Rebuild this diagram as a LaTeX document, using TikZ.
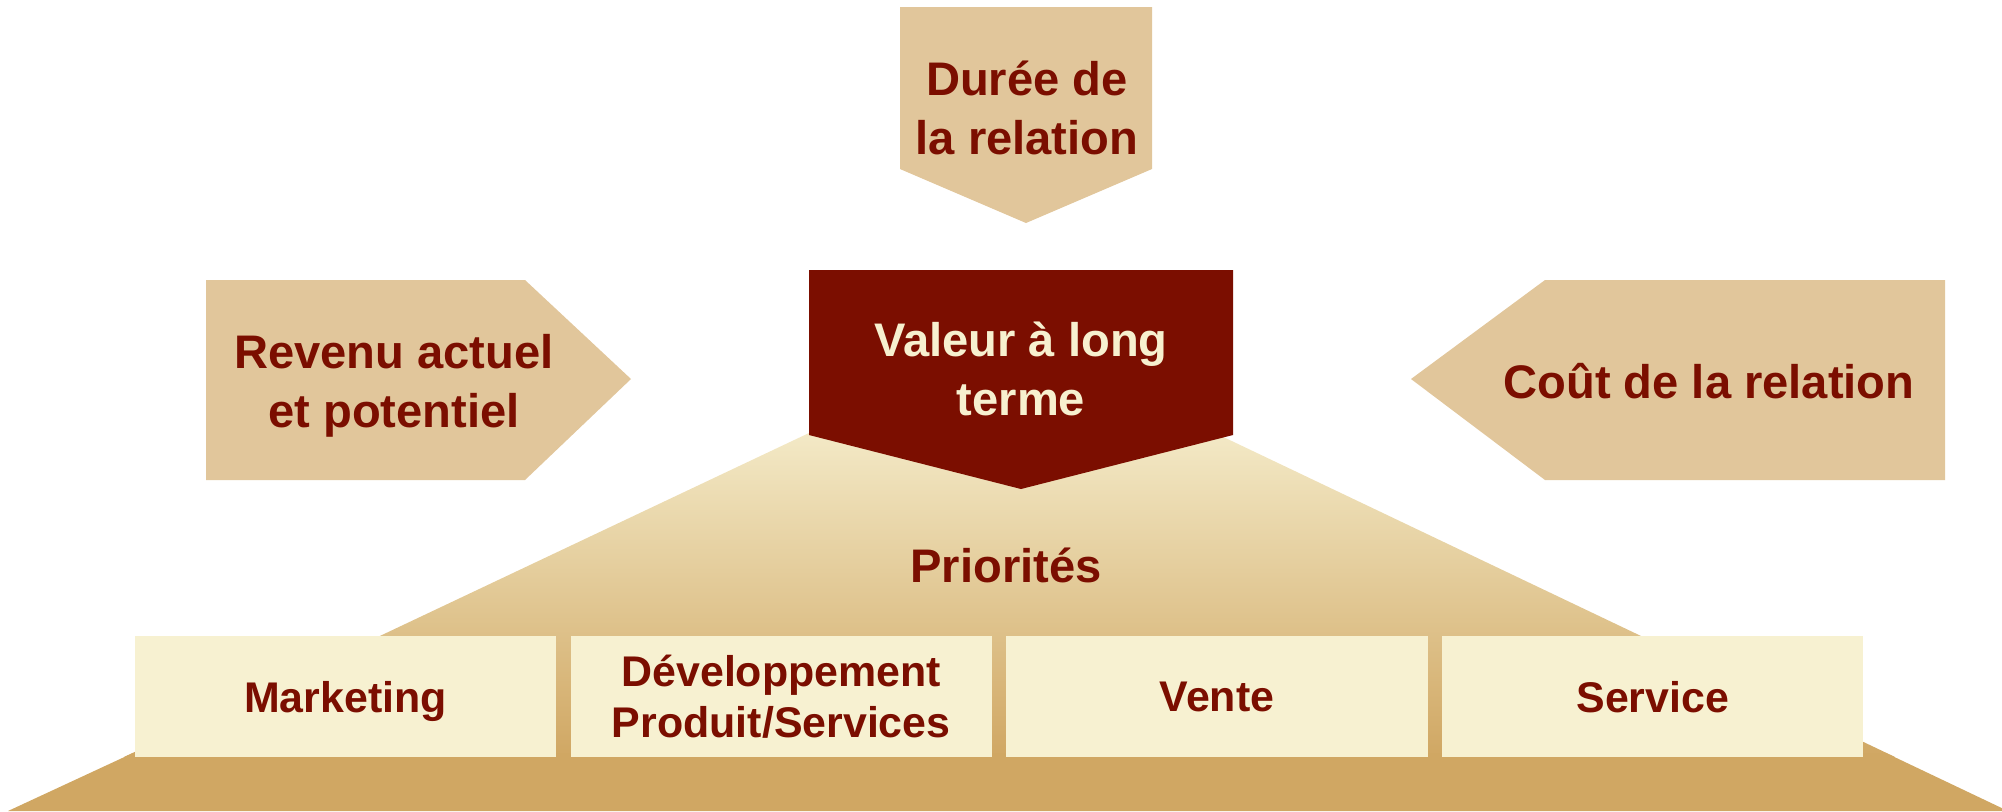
\documentclass[tikz,border=0pt]{standalone}
\usepackage{fontspec}
\setmainfont{Liberation Sans}
\usetikzlibrary{positioning}
\definecolor{tanbox}{HTML}{E1C69B}
\definecolor{wine}{HTML}{7B0E00}
\definecolor{creamtext}{HTML}{F7F0CF}
\definecolor{creambox}{HTML}{F7F1D1}
\definecolor{pyrtop}{HTML}{F3E9C6}
\definecolor{pyrbot}{HTML}{D0A763}
\begin{document}
\begin{tikzpicture}[x=0.01cm, y=-0.01cm,
    lbl/.style={font=\bfseries\fontsize{13.4pt}{16.5pt}\selectfont, text=wine, align=center, inner sep=0pt},
    func/.style={fill=creambox, minimum width=4.21cm, minimum height=1.21cm, inner sep=0pt, outer sep=0pt,
      text depth=0pt, align=center, text=wine, font=\bfseries\fontsize{12.2pt}{14.5pt}\selectfont},
    node distance=0.145cm]
  \useasboundingbox (0,0) rectangle (2002,811);
  % pyramide
  \shade[top color=pyrtop, bottom color=pyrbot] (809,433) -- (1215,433) -- (1895,757) -- (124,757) -- cycle;
  \fill[pyrbot] (133,753) -- (1886,753) -- (2008,811) -- (8,811) -- cycle;
  % fleches
  \fill[tanbox] (900,7) -- (1152,7) -- (1152,169) -- (1026,223) -- (900,169) -- cycle;
  \fill[tanbox] (206,280) -- (525,280) -- (631,379) -- (525,480) -- (206,480) -- cycle;
  \fill[tanbox] (1411,379) -- (1545,280) -- (1945,280) -- (1945,480) -- (1545,480) -- cycle;
  \fill[wine] (809,270) -- (1233,270) -- (1233,435) -- (1021,489) -- (809,435) -- cycle;
  \node[lbl, anchor=base] (duree) at (1027,154) {Durée de\\la relation};
  \node[lbl, anchor=base] (revenu) at (394,427) {Revenu actuel\\et potentiel};
  \node[lbl, anchor=base] (cout) at (1709,398) {Coût de la relation};
  \node[lbl, anchor=base, text=creamtext] (valeur) at (1021,415) {Valeur à long\\terme};
  \node[lbl, anchor=base] (prio) at (1006,582) {Priorités};
  % fonctions
  \node[func] (mkt) at (345.5,696.5) {Marketing};
  \node[func, right=of mkt] (dev) {Développement\\Produit/Services};
  \node[func, right=of dev] (vente) {Vente};
  \node[func, right=of vente] (serv) {Service};
\end{tikzpicture}
\end{document}
